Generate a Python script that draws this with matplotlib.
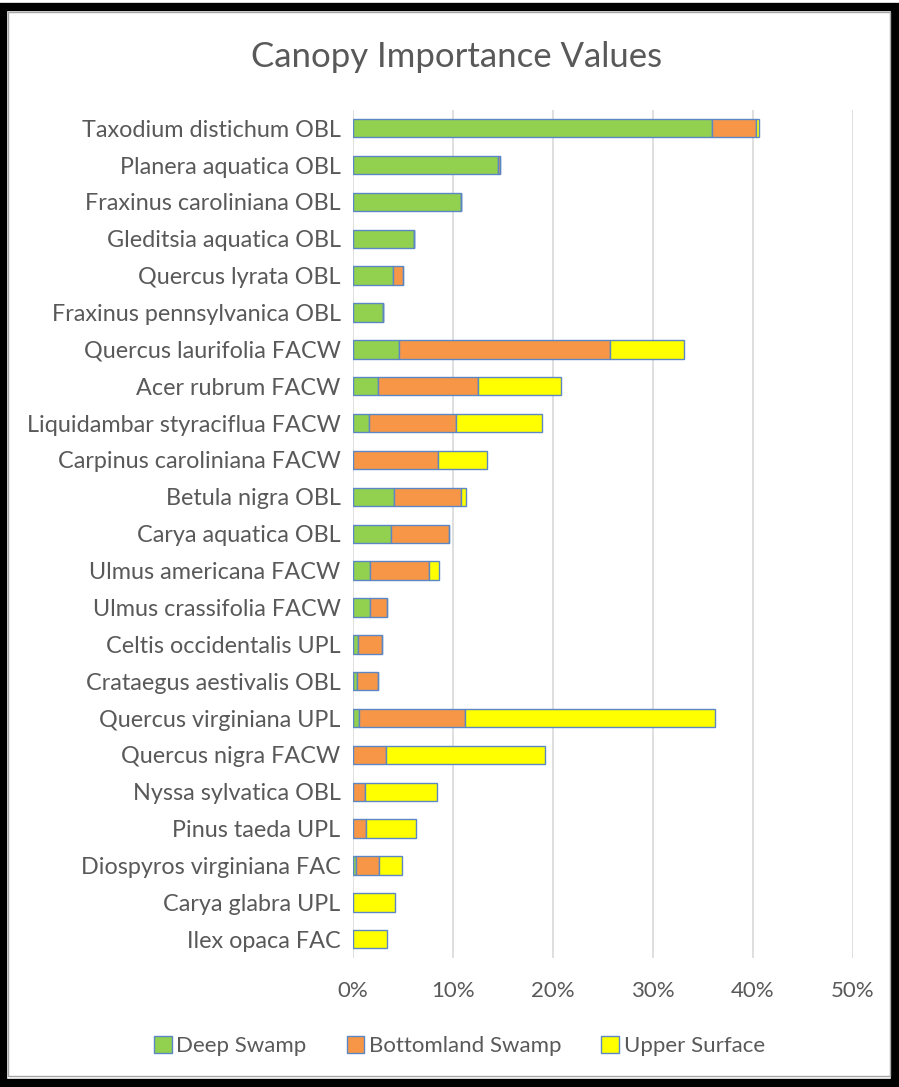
import matplotlib.pyplot as plt
from matplotlib.patches import Rectangle
from matplotlib.ticker import PercentFormatter
import numpy as np

species = [
    "Taxodium distichum OBL", "Planera aquatica OBL", "Fraxinus caroliniana OBL",
    "Gleditsia aquatica OBL", "Quercus lyrata OBL", "Fraxinus pennsylvanica OBL",
    "Quercus laurifolia FACW", "Acer rubrum FACW", "Liquidambar styraciflua FACW",
    "Carpinus caroliniana FACW", "Betula nigra OBL", "Carya aquatica OBL",
    "Ulmus americana FACW", "Ulmus crassifolia FACW", "Celtis occidentalis UPL",
    "Crataegus aestivalis OBL", "Quercus virginiana UPL", "Quercus nigra FACW",
    "Nyssa sylvatica OBL", "Pinus taeda UPL", "Diospyros virginiana FAC",
    "Carya glabra UPL", "Ilex opaca FAC",
]

# percent importance values
deep_swamp = [35.9, 14.5, 10.8, 6.1, 4.0, 3.0, 4.6, 2.5, 1.6, 0.0, 4.1, 3.8,
              1.7, 1.7, 0.5, 0.4, 0.6, 0.0, 0.0, 0.0, 0.3, 0.0, 0.0]
bottomland = [4.4, 0.15, 0.0, 0.0, 1.0, 0.0, 21.1, 10.0, 8.7, 8.5, 6.7, 5.8,
              5.9, 1.7, 2.4, 2.1, 10.6, 3.3, 1.2, 1.3, 2.3, 0.0, 0.0]
upper = [0.3, 0.0, 0.0, 0.0, 0.0, 0.0, 7.4, 8.3, 8.6, 4.9, 0.5, 0.0,
         1.0, 0.0, 0.0, 0.0, 25.0, 15.9, 7.2, 5.0, 2.3, 4.2, 3.4]

series = [("Deep Swamp", deep_swamp, "#92D050"),
          ("Bottomland Swamp", bottomland, "#F79646"),
          ("Upper Surface", upper, "#FFFF00")]

plt.rcParams['font.family'] = ['Lato', 'DejaVu Sans']
text_col = "#595959"

fig = plt.figure(figsize=(8.99, 10.87), dpi=100)
ax = fig.add_axes([0.3927, 0.119, 0.5562, 0.780])

y = np.arange(len(species))
left = np.zeros(len(species))
for name, vals, col in series:
    vals = np.array(vals)
    ax.barh(y, vals, left=left, height=0.5, color=col, edgecolor="#5B87C5",
            linewidth=1.0, label=name, zorder=3)
    left += vals

ax.set_ylim(len(species) - 0.5, -0.5)
ax.set_xlim(0, 50)
ax.set_xticks([0, 10, 20, 30, 40, 50])
ax.xaxis.set_major_formatter(PercentFormatter(decimals=0))
ax.set_yticks(y)
ax.set_yticklabels(species, fontsize=16.8)
ax.tick_params(axis='both', length=0, colors=text_col)
ax.tick_params(axis='x', labelsize=16, pad=17)
ax.tick_params(axis='y', pad=9)
ax.grid(axis='x', color="#D9D9D9", linewidth=1.2, zorder=0)
for s in ax.spines.values():
    s.set_visible(False)

fig.text(0.508, 0.948, "Canopy Importance Values", ha='center', va='center',
         fontsize=25, color=text_col)

fig.legend(loc='center', bbox_to_anchor=(0.511, 0.038), ncol=3, frameon=False,
           fontsize=16, labelcolor=text_col, handlelength=0.8, handleheight=0.8,
           handletextpad=0.2, columnspacing=1.8)

# outer frame
fig.patches.append(Rectangle((0.003, 0.004), 0.993, 0.99, transform=fig.transFigure,
                             fill=False, edgecolor="black", linewidth=6))
fig.patches.append(Rectangle((0.009, 0.010), 0.981, 0.979, transform=fig.transFigure,
                             fill=False, edgecolor="#A6A6A6", linewidth=1))

fig.savefig("out.png", dpi=100)
